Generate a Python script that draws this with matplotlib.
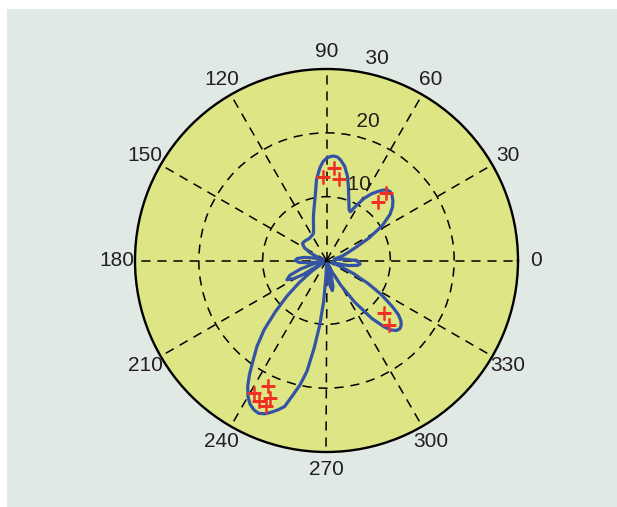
import numpy as np
import matplotlib
matplotlib.use('Agg')
import matplotlib.pyplot as plt
from matplotlib.patches import Rectangle

plt.rcParams['font.family'] = ['Liberation Sans', 'DejaVu Sans']

# beam pattern: angle (deg) and radius
theta_deg = [0, 4, 8, 12, 16, 20, 24, 28, 32, 36, 39, 42, 45, 47, 49, 51, 53, 56, 59, 62, 64,
             66, 68, 70, 73, 76, 79, 82, 84, 86, 88, 90, 92, 94, 97, 100, 103, 106, 109, 112,
             115, 118, 122, 126, 130, 135, 140, 145, 150, 155, 160, 164, 168, 172, 176,
             180, 184, 188, 192, 195, 198, 202, 206, 209, 211, 213, 216, 219, 222, 225,
             228, 231, 234, 236, 238, 240, 242, 244, 246, 248, 250, 252, 254, 256, 258,
             260, 262, 264, 266, 268, 270, 272, 275, 278, 281, 284, 287, 290, 293, 296,
             300, 304, 308, 311, 313, 315, 317, 319, 321, 323, 325, 328, 331, 334, 337, 340,
             343, 347, 351, 354, 357, 360]
radius = [4.6, 3.0, 1.2, 1.5, 2.6, 3.5, 5.0, 7.6, 10.3, 12.3, 13.3, 14.0, 14.5, 14.7, 14.6,
          14.2, 13.6, 12.6, 11.3, 9.5, 8.5, 8.7, 9.4, 10.2, 11.8, 13.6, 15.0, 15.9, 16.3,
          16.4, 16.3, 16.0, 15.5, 14.6, 12.8, 10.2, 8.6, 7.4, 6.3, 5.4, 4.8, 4.6, 4.5, 4.4,
          4.4, 4.5, 4.6, 4.6, 4.0, 2.8, 1.3, 0.5, 1.8, 3.5, 4.6, 4.9, 4.3, 2.6, 1.0, 2.2,
          4.2, 6.2, 6.9, 5.8, 4.2, 0.6, 2.8, 5.5, 8.3, 11.3, 14.6, 17.3, 19.7, 21.6, 23.3,
          24.6, 25.5, 26.0, 26.2, 25.9, 25.3, 24.6, 23.8, 21.7, 19.9, 17.6, 13.8, 10.2,
          6.5, 2.5, 0.8, 0.5, 2.3, 4.0, 4.8, 4.2, 2.5, 1.0, 0.6, 2.0, 4.5, 7.8, 11.5, 13.8,
          14.9, 15.5, 15.7, 15.5, 15.0, 14.1, 12.6, 10.2, 7.5, 4.8, 2.4, 0.8, 1.5, 3.5, 4.9,
          5.3, 5.1, 4.6]

# red + marks (estimated positions)
mark_deg = [92.2, 85.2, 81.2, 48.6, 48.5, -42.4, -45.8, 244.9, 241.4, 244.4, 247.6, 247.3]
mark_r = [13.05, 14.5, 12.9, 12.3, 14.1, 12.3, 14.1, 21.7, 23.6, 24.4, 23.3, 24.7]

ring_vals = [10, 20, 30]
angle_vals = list(range(0, 360, 30))

fig = plt.figure(figsize=(6.17, 5.07), dpi=100)
fig.patch.set_facecolor('white')
fig.patches.append(Rectangle((7 / 617, 0), 610 / 617, 498 / 507, transform=fig.transFigure,
                             facecolor='#e1e9e4', edgecolor='none', zorder=-10))

ax = fig.add_axes([135 / 617, 55 / 507, 383 / 617, 383 / 507], projection='polar')
ax.set_facecolor('#dde584')
ax.set_ylim(0, 30)
ax.set_xticks(np.deg2rad(angle_vals))
ax.set_yticks(ring_vals[:-1])
ax.set_xticklabels([])
ax.set_yticklabels([])
ax.grid(True, color='black', linestyle=(0, (6, 4.5)), linewidth=1.1)
ax.spines['polar'].set_linewidth(1.7)
ax.spines['polar'].set_color('black')

ax.plot(np.deg2rad(theta_deg), radius, color='#3553a4', linewidth=2.3, zorder=3)
ax.plot(np.deg2rad(mark_deg), mark_r, linestyle='none', marker='+', markersize=10,
        markeredgewidth=1.8, color='#ee3124', zorder=4)

txt = '#231f20'
for a in angle_vals:
    ax.text(np.deg2rad(a), 32.8, str(a), ha='center', va='center', fontsize=15, color=txt,
            clip_on=False)
for rv in ring_vals:
    ax.text(np.deg2rad(82), rv + 0.5, '  ' + str(rv), ha='left', va='bottom', fontsize=15,
            color=txt, clip_on=False)

fig.savefig('out.png', dpi=100)
